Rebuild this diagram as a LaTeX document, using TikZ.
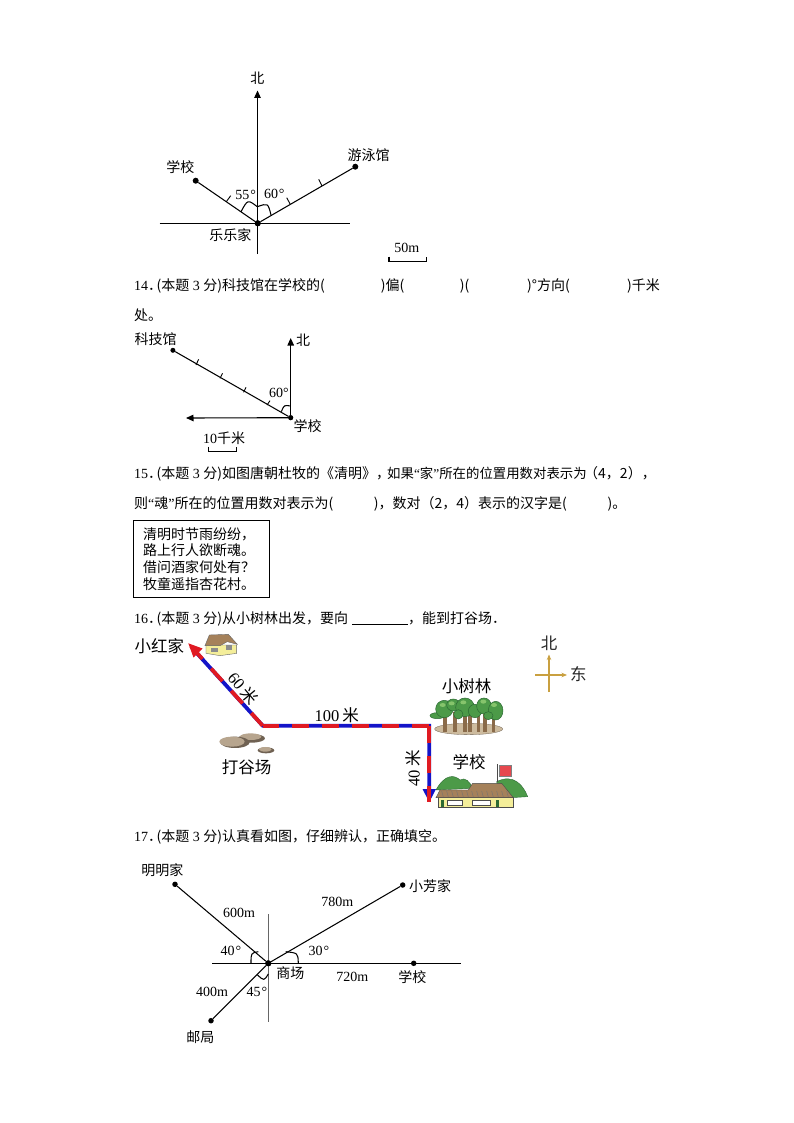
\documentclass[tikz,border=0pt]{standalone}
\usepackage{fontspec}
\usetikzlibrary{arrows.meta}
\setmainfont{Liberation Serif}
\newfontfamily\zhf{Noto Sans CJK SC}
\newcommand{\zh}[1]{{\zhf #1}}
\newcommand{\qhead}[1]{#1\zh{．}\kern-5.5pt\zh{(本题} 3 \zh{分)}}
\definecolor{treeg}{HTML}{4C9A48}
\definecolor{treel}{HTML}{86C46C}
\definecolor{treed}{HTML}{2C6A34}
\definecolor{trunkb}{HTML}{8A6B4A}
\definecolor{tanb}{HTML}{CDBB9E}
\definecolor{rockc}{HTML}{B7A58E}
\definecolor{rockd}{HTML}{6F6152}
\definecolor{housey}{HTML}{F4EE9A}
\definecolor{roofb}{HTML}{A5815A}
\definecolor{compassc}{HTML}{C9A040}
\definecolor{routeb}{HTML}{1414C8}
\definecolor{router}{HTML}{E01A22}
\tikzset{
  body/.style={anchor=base west,inner sep=0pt,font=\fontsize{14}{16}\selectfont},
  lab/.style={inner sep=0pt,font=\fontsize{14}{16}\selectfont},
  big/.style={inner sep=0pt,font=\fontsize{16.5}{19}\selectfont},
  mid/.style={inner sep=0pt,font=\fontsize{16.5}{19}\selectfont},
  pt/.style={circle,fill=black,inner sep=0pt,minimum size=6pt},
  thin1/.style={line width=1.05pt,black},
  arr/.style={line width=1.1pt,-{Triangle[length=7.5pt,width=6.5pt]}},
  tick1/.style={line width=.9pt},
  rtb/.style={line width=3.8pt,routeb},
  rtr/.style={line width=3.8pt,router,dash pattern=on 17pt off 13pt},
  crown/.style={fill=treeg,draw=treed,line width=.5pt},
}
\begin{document}
\begin{tikzpicture}[x=1pt,y=-1pt]
\useasboundingbox (0,0) rectangle (794,1123);
\fill[white] (0,0) rectangle (794,1123);

% ---------- figure 1
\coordinate (oneN) at (257.5,90.5);
\coordinate (oneS) at (257.5,254);
\coordinate (oneW) at (159.5,223.3);
\coordinate (oneE) at (350,223.3);
\node[pt] (oneO) at (257.7,223.3) {};
\node[pt] (oneSchool) at (195.7,180.7) {};
\node[pt] (onePool) at (355.3,166.7) {};
\draw[thin1] (oneW) -- (oneE);
\draw[thin1] (oneS) -- (257.5,223);
\draw[arr] (257.5,223) -- (oneN);
\draw[thin1] (oneO) -- (oneSchool);
\draw[thin1] (oneO) -- (onePool);
\fill (oneO) circle (3pt);
\draw[tick1] (230.7,195.7) -- (226.3,201.7);
\draw[tick1] (286.7,197.7) -- (290.3,204.3);
\draw[tick1] (318.7,179.3) -- (322,186);
\draw[thin1] (241,211.7) .. controls (247.7,199.4) .. (257.3,206.7);
\draw[thin1] (257.3,206.7) .. controls (268,203) .. (271,215);
\node[lab] (oneB) at (257.3,78.5) {\zh{北}};
\node[lab] (oneC) at (180.3,166.7) {\zh{学校}};
\node[lab] (oneD) at (368.7,154.7) {\zh{游泳馆}};
\node[lab] (oneF) at (230.3,235) {\zh{乐乐家}};
\node[lab] (oneG) at (245.7,195) {55\kern1pt°};
\node[lab] (oneH) at (274.3,194) {60\kern1pt°};
\node[lab] (oneI) at (406.7,247.7) {50m};
\draw[thin1] (389,256.7) -- (389,261.3) -- (426.3,261.3) -- (426.3,256.7);

% ---------- question 14
\node[body] (q14a) at (134,290) {\qhead{14}\zh{科技馆在学校的(}};
\node[body,anchor=base] (q14b) at (392.5,290) {\zh{)偏(}};
\node[body,anchor=base] (q14c) at (464.5,290) {\zh{)(}};
\node[body,anchor=base] (q14d) at (548.5,290) {\zh{)°方向(}};
\node[body,anchor=base east] (q14e) at (660,290) {\zh{)千米}};
\node[body] (q14f) at (134,320) {\zh{处。}};

% ---------- figure 2
\coordinate (twoN) at (290.7,338);
\coordinate (twoW) at (186,418);
\node[pt,minimum size=5pt] (twoO) at (290.7,417.7) {};
\node[pt,minimum size=5pt] (twoK) at (172.9,350.3) {};
\draw[arr] (twoO) -- (twoN);
\draw[arr] (twoO) -- (twoW);
\draw[thin1] (twoO) -- (twoK);
\fill (twoO) circle (2.5pt);
\draw[tick1] (198.6,359.3) -- (196,365);
\draw[tick1] (222.5,373.3) -- (220,378.3);
\draw[tick1] (246,387.3) -- (243.6,392.3);
\draw[tick1] (270,400.7) -- (267,405);
\draw[thin1] (281.4,411.7) .. controls (284,405) .. (290.7,406);
\node[lab] (twoA) at (155.7,339.5) {\zh{科技馆}};
\node[lab] (twoB) at (303,340.7) {\zh{北}};
\node[lab] (twoC) at (279,392.7) {60°};
\node[lab] (twoD) at (307.5,426) {\zh{学校}};
\node[lab] (twoE) at (224,437.7) {10\zh{千米}};
\draw[line width=1.2pt] (208.6,446.7) -- (208.6,451.7) -- (236.8,451.7) -- (236.8,446.7);

% ---------- question 15
\node[body] (q15a) at (134,478) {\qhead{15}\zh{如图唐朝杜牧的《清明》，}};
\node[body,font=\fontsize{13.4}{16}\selectfont] (q15e) at (387,478) {\zh{如果}“\zh{家}”\zh{所在的位置用数对表示为}};
\node[body] (q15f) at (584,478) {\zh{（4，2），}};
\node[body] (q15b) at (134,508) {\zh{则}“\zh{魂}”\zh{所在的位置用数对表示为(}};
\node[body] (q15c) at (373.6,508) {\zh{)，数对（2，4）表示的汉字是(}};
\node[body] (q15d) at (607.5,508) {\zh{)。}};
\draw[line width=1pt] (133.6,520.3) rectangle (269.3,597.3);
\node[body] (po1) at (143,539) {\zh{清明时节雨纷纷，}};
\node[body] (po2) at (143,555) {\zh{路上行人欲断魂。}};
\node[body] (po3) at (143,572) {\zh{借问酒家何处有？}};
\node[body] (po4) at (143,589) {\zh{牧童遥指杏花村。}};

% ---------- question 16
\node[body] (q16a) at (134,623) {\qhead{16}\zh{从小树林出发，要向}};
\draw[line width=.9pt] (352,624.5) -- (407.5,624.5);
\node[body] (q16b) at (408,623) {\zh{，能到打谷场．}};

% ---------- figure 3: map
\coordinate (home) at (188.3,643.3);
\coordinate (field) at (262.7,725.7);
\coordinate (wood) at (429.3,725.7);
\coordinate (school) at (429.3,802);
\coordinate (cN) at (549,654.5);
\coordinate (cS) at (549,692);
\coordinate (cE) at (567,675);
\coordinate (cW) at (535,675);
\draw[compassc,line width=1.2pt,-{Stealth[length=5.5pt,width=4.5pt]}] (cS) -- (cN);
\draw[compassc,line width=1.2pt,-{Stealth[length=5.5pt,width=4.5pt]}] (cW) -- (cE);
\node[big,text=black!85] (cb) at (549,643) {\zh{北}};
\node[big,text=black!85] (cd) at (578.3,674.3) {\zh{东}};
% route
\draw[rtb,line join=miter] (home) ++(6,7) -- (field) -- (wood) -- (429.3,795);
\fill[routeb] (422.5,789) -- (436,789) -- (429.3,802) -- cycle;
\draw[rtr,line cap=butt] (wood) -- (school);
\draw[rtr,line cap=butt] (wood) -- (field);
\draw[rtr,line cap=butt] (field) -- (home);
\fill[router] (188.3,643.3) -- (202.5,648.5) -- (193.5,657.5) -- cycle;
\node[big] (l1) at (159.3,645.7) {\zh{小红家}};
\node[big] (l2) at (246.7,767.7) {\zh{打谷场}};
\node[big] (l3) at (466.7,686.7) {\zh{小树林}};
\node[big] (l4) at (469,762.3) {\zh{学校}};
\node[mid,rotate=-50] (l5) at (243.3,688.3) {60\kern3pt\zh{米}};
\node[mid] (l6) at (336.7,715.7) {100\kern3pt\zh{米}};
\node[mid,rotate=90] (l7) at (413.3,768.3) {40\kern3pt\zh{米}};
% small house and rocks
\begin{scope}[shift={(120,625)},x=.3333pt,y=-.3333pt]
  \fill[housey,draw=black!60,line width=.4pt] (258,60) -- (350,60) -- (350,85) -- (300,92) -- (258,85) -- cycle;
  \fill[roofb,draw=black!60,line width=.4pt] (268,30) -- (325,28) -- (352,58) -- (322,50) -- (300,62) -- (255,62) -- cycle;
  \fill[black!45] (272,68) rectangle (295,82);
  \fill[black!45] (318,60) rectangle (335,75);
  \fill[rockd] (395,340) ellipse [x radius=40,y radius=13];
  \fill[rockc] (392,335) ellipse [x radius=32,y radius=10];
  \fill[rockd] (345,352) ellipse [x radius=44,y radius=17];
  \fill[rockc] (336,350) ellipse [x radius=38,y radius=15];
  \fill[rockd] (438,376) ellipse [x radius=25,y radius=9];
  \fill[rockc] (436,373) ellipse [x radius=19,y radius=7];
\end{scope}
% trees and school
\begin{scope}[shift={(350,625)},x=.3333pt,y=-.3333pt]
  \fill[tanb,draw=rockd,line width=.3pt] (356,312) ellipse [x radius=102,y radius=17];
  \foreach \tx in {285,315,345,360,385,405,430}
    \fill[trunkb] (\tx-5,262) rectangle (\tx+5,320);
  \foreach \cx/\cy/\rx/\ry in {262/272/22/9,283/252/26/26,310/240/20/18,345/247/28/28,375/258/20/20,402/243/22/24,437/257/22/28,325/268/14/14,415/272/14/12}
    \fill[crown] (\cx,\cy) ellipse [x radius=\rx,y radius=\ry];
  \foreach \cx/\cy in {278/240,340/232,400/230,432/240,305/235}
    \fill[treel] (\cx,\cy) ellipse [x radius=9,y radius=6];
  % school
  \fill[treeg,draw=treed,line width=.4pt] (258,495) .. controls (285,445) and (315,450) .. (330,465) .. controls (345,455) and (360,470) .. (368,490) -- cycle;
  \fill[treeg,draw=treed,line width=.4pt] (440,470) .. controls (490,445) and (520,480) .. (533,515) -- (450,520) -- cycle;
  \draw[black!70,line width=1pt] (443,418) -- (443,472);
  \fill[router!80!white,draw=black!50,line width=.3pt] (446,420) rectangle (483,452);
  \fill[housey,draw=black!70,line width=.4pt] (266,518) rectangle (490,548);
  \fill[roofb,draw=black!70,line width=.4pt] (270,495) -- (355,495) -- (368,475) -- (455,475) -- (490,518) -- (258,518) -- cycle;
  \foreach \sx in {275,290,...,470}
    \draw[black!55,line width=.4pt] (\sx,498) -- (\sx+5,516);
  \fill[white,draw=black!70,line width=.3pt] (290,525) rectangle (335,540);
  \fill[white,draw=black!70,line width=.3pt] (365,525) rectangle (420,540);
  \fill[treed] (272,525) rectangle (282,546);
  \fill[treed] (438,525) rectangle (448,546);
\end{scope}

% ---------- question 17
\node[body] (q17a) at (134,841.5) {\qhead{17}\zh{认真看如图，仔细辨认，正确填空。}};
\coordinate (fW) at (212.3,963.3);
\coordinate (fN) at (268.3,914);
\coordinate (fS) at (268.3,1021.7);
\coordinate (fE) at (461,963.3);
\node[pt] (fO) at (268.3,963.3) {};
\node[pt,minimum size=5.5pt] (fA) at (175,884.3) {};
\node[pt,minimum size=5.5pt] (fB) at (402.7,885) {};
\node[pt,minimum size=5.5pt] (fC) at (413.7,963.3) {};
\node[pt,minimum size=5.5pt] (fD) at (211,1020.7) {};
\draw[thin1] (fW) -- (fE);
\draw[line width=1.4pt,black!60] (fN) -- (fS);
\draw[thin1] (fO) -- (fA);
\draw[thin1] (fO) -- (fB);
\draw[thin1] (fO) -- (fD);
\fill (fO) circle (3pt);
\draw[thin1] (251,963.3) .. controls (251,953) .. (258.3,951.7);
\draw[thin1] (298.3,963.3) .. controls (298,953) .. (285.7,951.7);
\draw[thin1] (257.3,974.7) .. controls (264,981) .. (268.3,974);
\node[lab] (f1) at (162.3,870) {\zh{明明家}};
\node[lab] (f2) at (430,885.7) {\zh{小芳家}};
\node[lab] (f3) at (239,913.3) {600m};
\node[lab] (f4) at (337.3,901.7) {780m};
\node[lab] (f5) at (231,951) {40\kern1pt°};
\node[lab] (f6) at (319,950.7) {30\kern1pt°};
\node[lab] (f7) at (290.3,973.3) {\zh{商场}};
\node[lab] (f8) at (352.3,977.3) {720m};
\node[lab] (f9) at (412.3,976.7) {\zh{学校}};
\node[lab] (f10) at (212,992.3) {400m};
\node[lab] (f11) at (257,992.3) {45\kern1pt°};
\node[lab] (f12) at (200.3,1036.7) {\zh{邮局}};
\end{tikzpicture}
\end{document}
